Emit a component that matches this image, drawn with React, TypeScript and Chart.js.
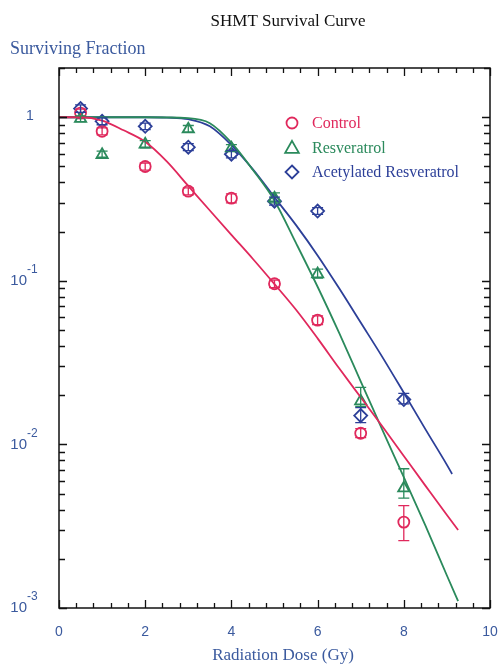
import React, { useEffect, useRef } from "react";
import { Chart, registerables } from "chart.js";

Chart.register(...registerables);

// ---- data ----
const doses = [0.5, 1, 2, 3, 4, 5, 6, 7, 8];

const controlVals = [1.06, 0.82, 0.50, 0.353, 0.32, 0.096, 0.0575, 0.0117, 0.00335];
const controlLow = [1.0, 0.78, 0.475, 0.335, 0.30, 0.091, 0.054, 0.011, 0.00258];
const controlHigh = [1.12, 0.86, 0.525, 0.37, 0.34, 0.101, 0.061, 0.0125, 0.00423];

const resVals = [0.98, 0.59, 0.684, 0.845, 0.647, 0.32, 0.110, 0.0184, 0.0054];
const resLow = [0.94, 0.57, 0.65, 0.81, 0.62, 0.30, 0.104, 0.0171, 0.0047];
const resHigh = [1.02, 0.62, 0.72, 0.89, 0.68, 0.345, 0.118, 0.0223, 0.0071];

const acVals = [1.13, 0.945, 0.88, 0.656, 0.594, 0.307, 0.267, 0.015, 0.0188];
const acLow = [1.07, 0.9, 0.84, 0.625, 0.565, 0.29, 0.255, 0.0136, 0.0177];
const acHigh = [1.19, 0.99, 0.92, 0.69, 0.625, 0.325, 0.28, 0.0168, 0.0205];

const controlFitX = [0, 0.5, 1, 1.5, 2, 2.5, 3, 3.5, 4, 4.5, 5, 5.5, 6, 6.5, 7, 7.5, 8, 8.5, 9, 9.26];
const controlFitY = [1.0, 1.0, 0.955, 0.832, 0.708, 0.537, 0.380, 0.269, 0.191, 0.136, 0.0955, 0.0665, 0.0445, 0.0292, 0.0194, 0.0129, 0.0085, 0.0056, 0.0037, 0.0030];

const resFitX = [0, 1, 2, 3, 3.5, 4, 4.5, 5, 5.5, 6, 6.5, 7, 7.5, 8, 8.5, 9, 9.26];
const resFitY = [1, 1, 1, 0.987, 0.92, 0.70, 0.476, 0.309, 0.17, 0.092, 0.048, 0.0243, 0.0123, 0.0063, 0.0032, 0.00158, 0.0011];

const acFitX = [0, 1, 2, 2.5, 3, 3.5, 4, 4.5, 5, 5.5, 6, 6.5, 7, 7.5, 8, 8.5, 9, 9.12];
const acFitY = [1, 1, 1, 0.995, 0.973, 0.88, 0.676, 0.48, 0.324, 0.219, 0.143, 0.090, 0.0556, 0.0343, 0.0207, 0.0124, 0.0075, 0.0066];

const xMajorTicks = [0, 2, 4, 6, 8, 10];
const xMinorStep = 0.4;
const yMajorTicks = [1, 0.1, 0.01, 0.001];
const yMajorExp = ["", "-1", "-2", "-3"];

const seriesNames = ["Control", "Resveratrol", "Acetylated Resveratrol"];
const RED = "#e0285c";
const GREEN = "#2b8a5c";
const BLUE = "#2c3f98";
const LABEL_BLUE = "#3b5a9e";

function pts(xs: number[], ys: number[]) {
  return xs.map((x, i) => ({ x, y: ys[i] }));
}

function drawMarker(ctx: CanvasRenderingContext2D, style: string, x: number, y: number, r: number) {
  ctx.beginPath();
  if (style === "circle") {
    ctx.arc(x, y, r, 0, Math.PI * 2);
  } else if (style === "triangle") {
    ctx.moveTo(x, y - r * 1.1);
    ctx.lineTo(x + r * 1.05, y + r * 0.75);
    ctx.lineTo(x - r * 1.05, y + r * 0.75);
    ctx.closePath();
  } else {
    ctx.moveTo(x, y - r);
    ctx.lineTo(x + r, y);
    ctx.lineTo(x, y + r);
    ctx.lineTo(x - r, y);
    ctx.closePath();
  }
  ctx.stroke();
}

const decorPlugin = {
  id: "decor",
  afterDatasetsDraw(chart: any) {
    const ctx: CanvasRenderingContext2D = chart.ctx;
    const xs = chart.scales.x;
    const ys = chart.scales.y;
    const errs = [
      { low: controlLow, high: controlHigh, color: RED },
      { low: resLow, high: resHigh, color: GREEN },
      { low: acLow, high: acHigh, color: BLUE },
    ];
    ctx.save();
    errs.forEach((e) => {
      ctx.strokeStyle = e.color;
      ctx.lineWidth = 1.3;
      doses.forEach((d, i) => {
        const px = xs.getPixelForValue(d);
        const y1 = ys.getPixelForValue(e.low[i]);
        const y2 = ys.getPixelForValue(e.high[i]);
        ctx.beginPath();
        ctx.moveTo(px, y1);
        ctx.lineTo(px, y2);
        ctx.moveTo(px - 5.5, y1);
        ctx.lineTo(px + 5.5, y1);
        ctx.moveTo(px - 5.5, y2);
        ctx.lineTo(px + 5.5, y2);
        ctx.stroke();
      });
    });
    ctx.restore();
  },
  afterDraw(chart: any) {
    const ctx: CanvasRenderingContext2D = chart.ctx;
    const a = chart.chartArea;
    const xs = chart.scales.x;
    const ys = chart.scales.y;
    ctx.save();
    ctx.strokeStyle = "#111";
    ctx.lineWidth = 1.5;
    ctx.strokeRect(a.left, a.top, a.right - a.left, a.bottom - a.top);
    ctx.lineWidth = 1.3;
    ctx.beginPath();
    for (let v = 0; v <= 10.001; v += xMinorStep) {
      const px = Math.round(xs.getPixelForValue(v)) + 0.5;
      const major = xMajorTicks.some((m) => Math.abs(m - v) < 1e-6);
      const len = major ? 8 : 5;
      ctx.moveTo(px, a.bottom);
      ctx.lineTo(px, a.bottom - len);
      ctx.moveTo(px, a.top);
      ctx.lineTo(px, a.top + len);
    }
    for (let d = -3; d <= 0; d++) {
      for (let k = 1; k <= 9; k++) {
        const v = k * Math.pow(10, d);
        if (v > 2.0001) continue;
        const py = Math.round(ys.getPixelForValue(v)) + 0.5;
        const len = k === 1 ? 8 : 6;
        ctx.moveTo(a.left, py);
        ctx.lineTo(a.left + len, py);
        ctx.moveTo(a.right, py);
        ctx.lineTo(a.right - len, py);
      }
    }
    ctx.stroke();

    ctx.fillStyle = LABEL_BLUE;
    ctx.font = '14px "Liberation Sans", Arial, sans-serif';
    ctx.textAlign = "center";
    ctx.textBaseline = "middle";
    xMajorTicks.forEach((v) => {
      ctx.fillText(String(v), xs.getPixelForValue(v), a.bottom + 24);
    });
    yMajorTicks.forEach((v, i) => {
      const py = ys.getPixelForValue(v);
      if (yMajorExp[i] === "") {
        ctx.font = '14px "Liberation Sans", Arial, sans-serif';
        ctx.textAlign = "center";
        ctx.fillText("1", 30, py - 1);
      } else {
        ctx.font = '15px "Liberation Sans", Arial, sans-serif';
        ctx.textAlign = "right";
        ctx.fillText("10", 27, py);
        ctx.font = '12px "Liberation Sans", Arial, sans-serif';
        ctx.textAlign = "left";
        ctx.fillText(yMajorExp[i], 27, py - 11);
      }
    });

    ctx.textAlign = "center";
    ctx.fillStyle = "#111";
    ctx.font = '17px "Liberation Serif", "Times New Roman", serif';
    ctx.fillText("SHMT Survival Curve", 288, 22);
    ctx.fillStyle = LABEL_BLUE;
    ctx.font = '18px "Liberation Serif", "Times New Roman", serif';
    ctx.textAlign = "left";
    ctx.fillText("Surviving Fraction", 10, 49);
    ctx.textAlign = "center";
    ctx.font = '17px "Liberation Serif", "Times New Roman", serif';
    ctx.fillText("Radiation Dose (Gy)", 283, 656);

    const legend = [
      { name: seriesNames[0], color: RED, style: "circle", y: 123 },
      { name: seriesNames[1], color: GREEN, style: "triangle", y: 148 },
      { name: seriesNames[2], color: BLUE, style: "diamond", y: 172 },
    ];
    ctx.font = '16px "Liberation Serif", "Times New Roman", serif';
    ctx.textAlign = "left";
    legend.forEach((l) => {
      ctx.strokeStyle = l.color;
      ctx.lineWidth = 1.8;
      drawMarker(ctx, l.style, 292, l.y, l.style === "circle" ? 5.5 : 6.5);
      ctx.fillStyle = l.color;
      ctx.fillText(l.name, 312, l.y + 1);
    });
    ctx.restore();
  },
};

export default function App() {
  const ref = useRef<HTMLCanvasElement | null>(null);
  useEffect(() => {
    document.body.style.margin = "0";
    if (!ref.current) return;
    const lineDs = (label: string, xsArr: number[], ysArr: number[], color: string) => ({
      label,
      data: pts(xsArr, ysArr),
      showLine: true,
      borderColor: color,
      borderWidth: 1.8,
      pointRadius: 0,
      fill: false,
      cubicInterpolationMode: "monotone" as const,
    });
    const pointDs = (label: string, ysArr: number[], color: string, style: string, r: number) => ({
      label,
      data: pts(doses, ysArr),
      showLine: false,
      borderColor: color,
      backgroundColor: "rgba(255,255,255,0)",
      borderWidth: 1.8,
      pointStyle: style,
      pointRadius: r,
    });
    const chart = new Chart(ref.current, {
      type: "scatter",
      data: {
        datasets: [
          lineDs("Control fit", controlFitX, controlFitY, RED),
          lineDs("Resveratrol fit", resFitX, resFitY, GREEN),
          lineDs("Acetylated fit", acFitX, acFitY, BLUE),
          pointDs(seriesNames[0], controlVals, RED, "circle", 5.5),
          pointDs(seriesNames[1], resVals, GREEN, "triangle", 6.5),
          pointDs(seriesNames[2], acVals, BLUE, "rectRot", 6.5),
        ] as any,
      },
      options: {
        animation: false,
        responsive: false,
        layout: { padding: { left: 59, right: 12, top: 68, bottom: 57 } },
        scales: {
          x: { type: "linear", min: 0, max: 10, display: false },
          y: { type: "logarithmic", min: 0.001, max: 2, display: false },
        },
        plugins: { legend: { display: false }, tooltip: { enabled: false } },
      },
      plugins: [decorPlugin],
    });
    return () => chart.destroy();
  }, []);
  return (
    <div style={{ width: 502, height: 665 }}>
      <canvas ref={ref} width={502} height={665} />
    </div>
  );
}
